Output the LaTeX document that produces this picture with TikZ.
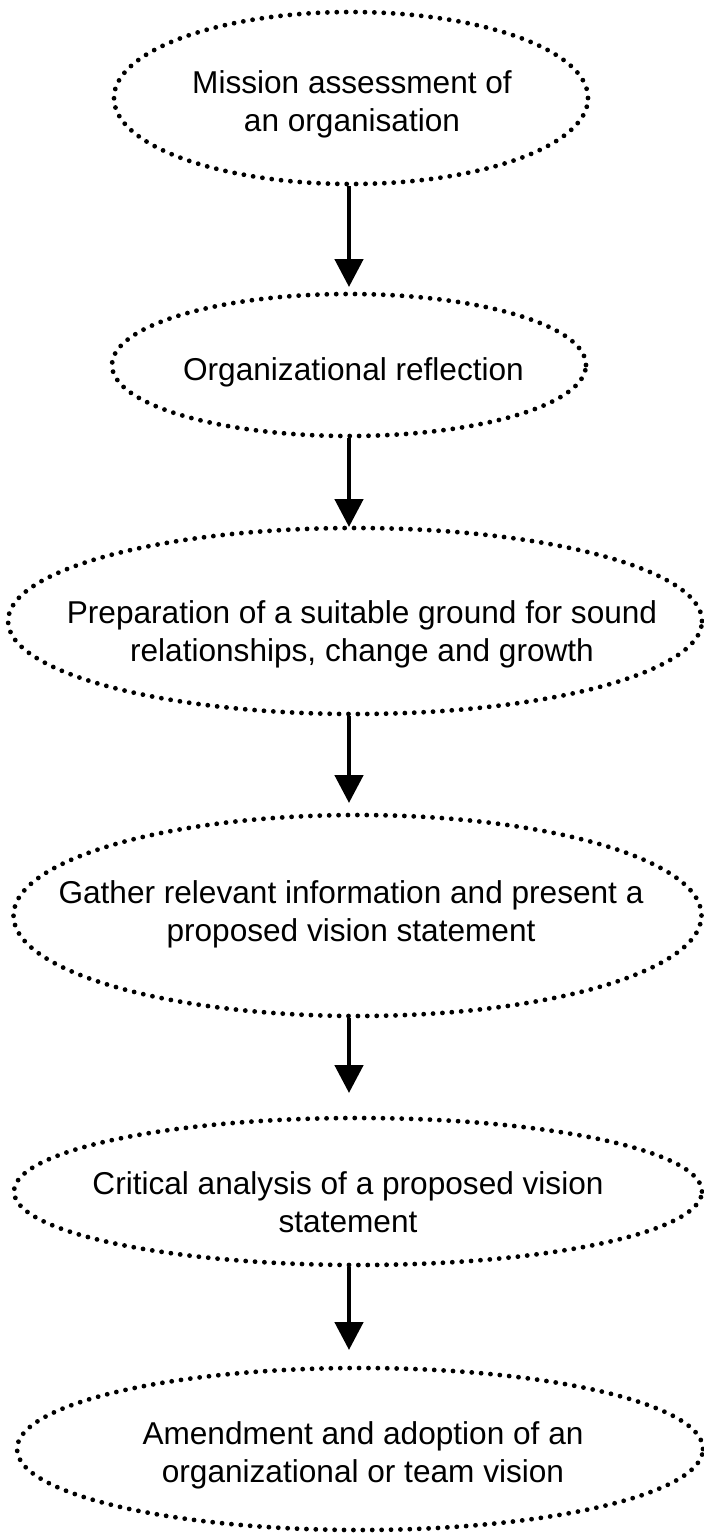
\documentclass[tikz,border=0pt]{standalone}
\usepackage{fontspec}
\setmainfont{Liberation Sans}
\usetikzlibrary{arrows.meta,shapes.geometric}
\begin{document}
\begin{tikzpicture}[x=0.5pt,y=-0.5pt,
  ell/.style={ellipse, draw, line width=2.4pt, line cap=round,
              dash pattern=on 0pt off 4.7pt, inner sep=0pt},
  txt/.style={align=center, font=\fontsize{15.8pt}{19pt}\selectfont, inner sep=0pt},
  arr/.style={line width=2.4pt, -{Triangle[length=14pt,width=14pt]}}]
\useasboundingbox (0,0) rectangle (704,1533);
% ellipses
\node[ell, minimum width=237pt, minimum height=86pt]    (e1) at (351,98)     {};
\node[ell, minimum width=237pt, minimum height=71pt]    (e2) at (349,365)    {};
\node[ell, minimum width=347pt, minimum height=93pt]    (e3) at (355,621)    {};
\node[ell, minimum width=344pt, minimum height=100.5pt] (e4) at (357.5,915.5) {};
\node[ell, minimum width=344pt, minimum height=73.5pt]  (e5) at (358,1191.5) {};
\node[ell, minimum width=343pt, minimum height=81pt]    (e6) at (360,1449)   {};
% texts
\node[txt] (l1) at (352,104)  {Mission assessment of\\an organisation};
\node[txt] (l2) at (353.5,372) {Organizational reflection};
\node[txt] (l3) at (362,634)  {Preparation of a suitable ground for sound\\relationships, change and growth};
\node[txt] (l4) at (351,914)  {Gather relevant information and present a\\proposed vision statement};
\node[txt] (l5) at (348,1202) {Critical analysis of a proposed vision\\statement};
\node[txt] (l6) at (363,1455) {Amendment and adoption of an\\organizational or team vision};
% arrow tips
\coordinate (t1) at (349,287);
\coordinate (t2) at (349,527);
\coordinate (t3) at (349,803);
\coordinate (t4) at (349,1093);
\coordinate (t5) at (349,1350);
\draw[arr] (e1.south -| t1) -- (t1);
\draw[arr] (e2.south -| t2) -- (t2);
\draw[arr] (e3.south -| t3) -- (t3);
\draw[arr] (e4.south -| t4) -- (t4);
\draw[arr] (e5.south -| t5) -- (t5);
\end{tikzpicture}
\end{document}
